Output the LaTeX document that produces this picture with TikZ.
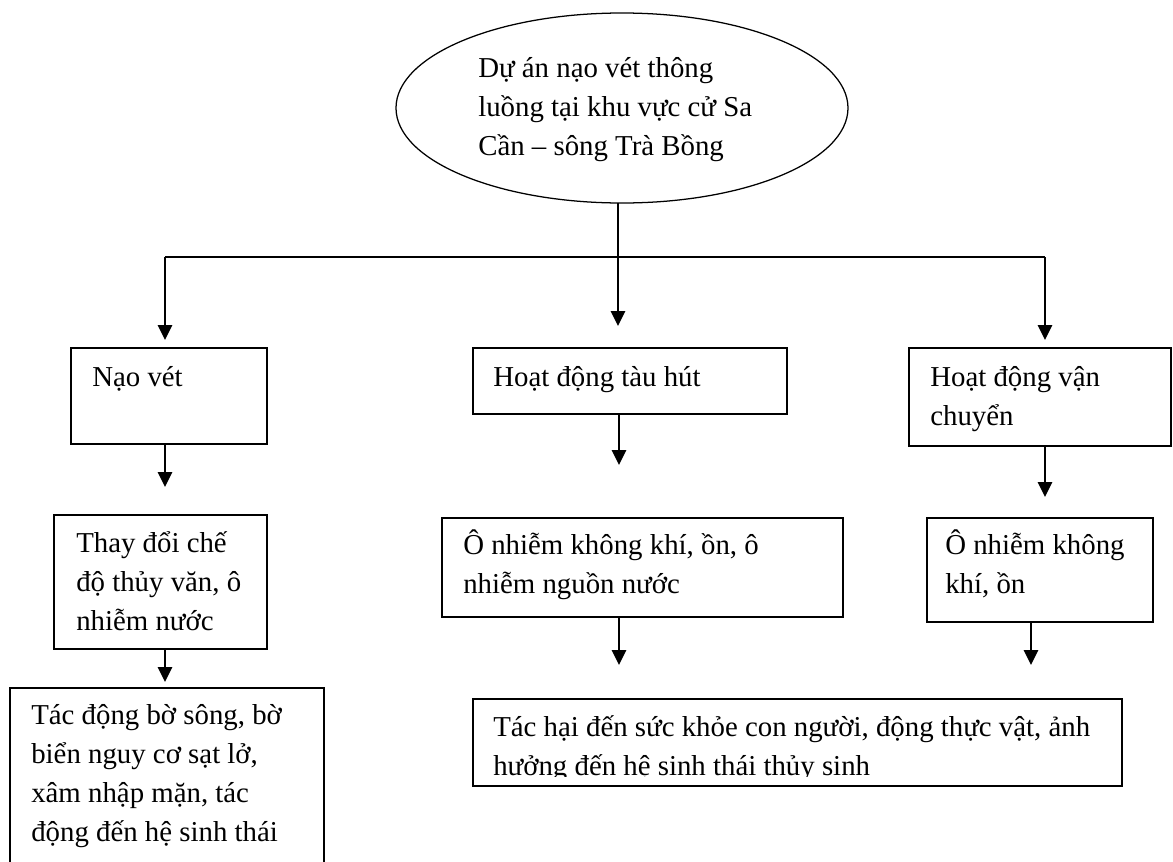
\documentclass[tikz,border=0pt]{standalone}
\usepackage{fontspec}
\setmainfont{Liberation Serif}
\usetikzlibrary{arrows.meta,shapes.geometric}
\newcommand{\dv}{0.025cm}
\tikzset{
    khung/.style={draw, line width=0.9pt, inner sep=0pt, outer sep=0pt},
    chu/.style={anchor=base west, inner sep=0pt, align=left, font=\fontsize{20.5}{27.5}\selectfont},
    noi/.style={line width=1.3pt},
    mui/.style={line width=1.3pt, -{Triangle[width=10pt,length=10.5pt]}}
}
\begin{document}
\begin{tikzpicture}[x=\dv, y=-\dv]
            \clip (0,0) rectangle (1173,862);
            % du an (chu: dat theo dong cuoi)
            \node[khung, ellipse, minimum width=452*\dv, minimum height=190*\dv] (duan) at (622,108) {};
            \node[chu] (duan-chu) at (478,155) {Dự án nạo vét thông\\luồng tại khu vực cử Sa\\Cần – sông Trà Bồng};
            % hang 1
            \node[khung, minimum width=196*\dv, minimum height=96*\dv] (naovet) at (169,396) {};
            \node[khung, minimum width=314*\dv, minimum height=66*\dv] (tauhut) at (630,381) {};
            \node[khung, minimum width=262*\dv, minimum height=98*\dv] (vanchuyen) at (1040,397) {};
            \node[chu] (naovet-chu) at (92,386) {Nạo vét};
            \node[chu] (tauhut-chu) at (493,386) {Hoạt động tàu hút};
            \node[chu] (vanchuyen-chu) at (930,425) {Hoạt động vận\\chuyển};
            % hang 2
            \node[khung, minimum width=213*\dv, minimum height=134*\dv] (thaydoi) at (160.5,582) {};
            \node[khung, minimum width=401*\dv, minimum height=99*\dv] (onhiem) at (642.5,567.5) {};
            \node[khung, minimum width=226*\dv, minimum height=104*\dv] (onhiemkk) at (1040,570) {};
            \node[chu] (thaydoi-chu) at (76,630) {Thay đổi chế\\độ thủy văn, ô\\nhiễm nước};
            \node[chu] (onhiem-chu) at (463,593) {Ô nhiễm không khí, ồn, ô\\nhiễm nguồn nước};
            \node[chu] (onhiemkk-chu) at (945,593) {Ô nhiễm không\\khí, ồn};
            % hang 3
            \node[khung, minimum width=314*\dv, minimum height=202*\dv] (bosong) at (167,789) {};
            \node[khung, minimum width=649*\dv, minimum height=87*\dv] (tachai) at (797.5,742.5) {};
            \node[chu] (bosong-chu) at (31,841) {Tác động bờ sông, bờ\\biển nguy cơ sạt lở,\\xâm nhập mặn, tác\\động đến hệ sinh thái};
            \begin{scope}
                \clip (473,699) rectangle (1122,776);
                \node[chu] (tachai-chu) at (493,775) {Tác hại đến sức khỏe con người, động thực vật, ảnh\\hưởng đến hệ sinh thái thủy sinh};
            \end{scope}
            % diem noi
            \coordinate (nga) at (618,257);
            \coordinate (trai) at (165,257);
            \coordinate (phai) at (1045,257);
            \coordinate (m1) at (165,340);
            \coordinate (m2) at (618,326);
            \coordinate (m3) at (1045,340);
            \coordinate (m4) at (165,487);
            \coordinate (m5) at (619,465);
            \coordinate (m6) at (1045,497);
            \coordinate (m7) at (165,682);
            \coordinate (m8) at (619,665);
            \coordinate (m9) at (1031,665);
            \draw[noi] (duan.south -| nga) -- (nga);
            \draw[noi] (trai) -- (phai);
            \draw[mui] (trai) -- (m1);
            \draw[mui] (nga) -- (m2);
            \draw[mui] (phai) -- (m3);
            \draw[mui] (naovet.south -| m4) -- (m4);
            \draw[mui] (tauhut.south -| m5) -- (m5);
            \draw[mui] (vanchuyen.south -| m6) -- (m6);
            \draw[mui] (thaydoi.south -| m7) -- (m7);
            \draw[mui] (onhiem.south -| m8) -- (m8);
            \draw[mui] (onhiemkk.south -| m9) -- (m9);
\end{tikzpicture}
\end{document}
